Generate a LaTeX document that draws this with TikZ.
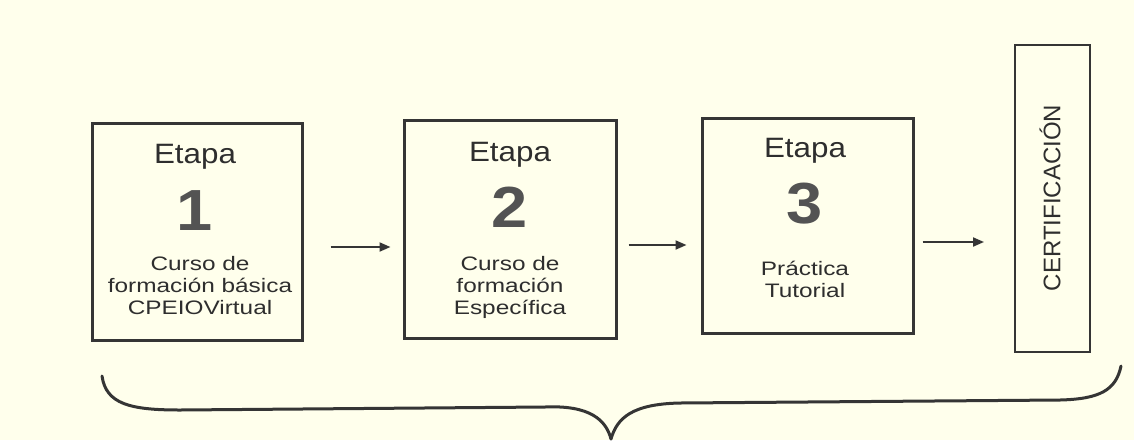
\documentclass[tikz,border=0pt]{standalone}
\usepackage{fontspec}
\setmainfont{Liberation Sans}
\newfontfamily\widefont[FakeStretch=1.12]{Liberation Sans}
\newfontfamily\widerfont[FakeStretch=1.25]{Liberation Sans}
\usetikzlibrary{arrows.meta}
\definecolor{bgc}{HTML}{FFFFEC}
\definecolor{ink}{HTML}{353535}
\definecolor{txt}{HTML}{2E2E2E}
\tikzset{
  stagebox/.style={draw=ink, line width=3pt, fill=bgc, inner sep=0pt},
  certbox/.style={draw=ink, line width=2pt, fill=bgc, inner sep=0pt},
  etapa/.style={font=\widefont\fontsize{28}{30}\selectfont, text=txt, inner sep=0pt, anchor=base},
  digit/.style={font=\widefont\fontsize{58}{60}\selectfont\bfseries, text=ink!85, inner sep=0pt, anchor=base},
  small/.style={font=\widerfont\fontsize{19.5}{22}\selectfont, text=txt, inner sep=0pt, align=center, anchor=north},
  arr/.style={draw=ink, line width=2pt, -{Triangle[length=11pt,width=9pt]}},
  bracestyle/.style={draw=ink, line width=3pt, line cap=round}
}
\begin{document}
\begin{tikzpicture}[x=1pt,y=-1pt]
\useasboundingbox (0,0) rectangle (1134,440);
\fill[bgc] (0,0) rectangle (1134,440);

% boxes
\node[stagebox, minimum width=210pt, minimum height=217pt] (b1) at (197,231.5) {};
\node[stagebox, minimum width=212pt, minimum height=218pt] (b2) at (510,229) {};
\node[stagebox, minimum width=211pt, minimum height=215pt] (b3) at (807.5,225.5) {};
\node[certbox, minimum width=75pt, minimum height=307pt] (c) at (1052.5,198.5) {};
\node[font=\fontsize{24}{26}\selectfont, text=txt, rotate=90, inner sep=0pt] (ct) at (1050,198) {CERTIFICACIÓN};

% box 1 text
\node[etapa] (e1) at (195,163) {Etapa};
\node[digit] (d1) at (195,230) {1};
\node[small] (s1) at (200,256) {Curso de\\formación básica\\CPEIOVirtual};

% box 2 text
\node[etapa] (e2) at (510,161) {Etapa};
\node[digit] (d2) at (510,227) {2};
\node[small] (s2) at (510,256) {Curso de\\formación\\Específica};

% box 3 text
\node[etapa] (e3) at (805,157) {Etapa};
\node[digit] (d3) at (805,223) {3};
\node[small] (s3) at (805,261) {Práctica\\Tutorial};

% arrows
\draw[arr, shorten <=27pt, shorten >=12pt] (b1.east |- 0,247) -- (b2.west |- 0,247);
\draw[arr, shorten <=11pt, shorten >=14pt] (b2.east |- 0,245) -- (b3.west |- 0,245);
\draw[arr, shorten <=8pt, shorten >=30pt] (b3.east |- 0,242) -- (c.west |- 0,242);

% brace
\draw[bracestyle] (102,376) .. controls (106,404) and (130,410) .. (180,410)
  -- (545,407) .. controls (590,405) and (606,420) .. (611,439);
\draw[bracestyle] (611,439) .. controls (617,418) and (632,404) .. (680,403)
  -- (1060,400) .. controls (1100,399) and (1116,390) .. (1121,366);
\end{tikzpicture}
\end{document}
